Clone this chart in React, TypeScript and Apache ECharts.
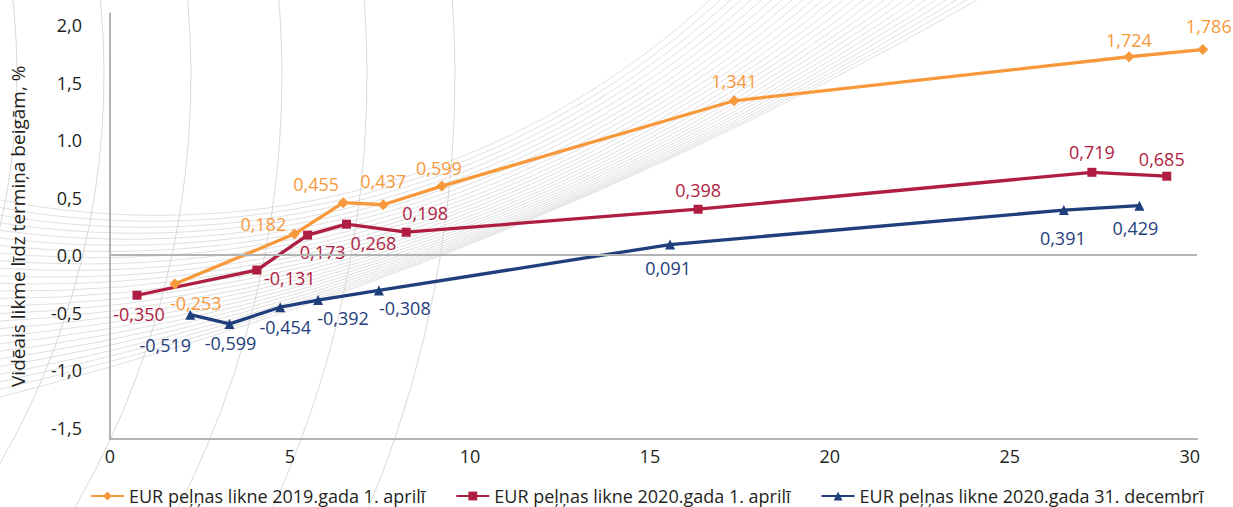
import React, { useEffect, useRef } from "react";
import * as echarts from "echarts";

// ---- data ----
const seriesNames = [
  "EUR peļņas likne 2019.gada 1. aprilī",
  "EUR peļņas likne 2020.gada 1. aprilī",
  "EUR peļņas likne 2020.gada 31. decembrī",
];
const x2019Apr = [1.8, 5.12, 6.48, 7.59, 9.22, 17.34, 28.31, 30.36];
const y2019Apr = [-0.253, 0.182, 0.455, 0.437, 0.599, 1.341, 1.724, 1.786];
const x2020Apr = [0.75, 4.08, 5.49, 6.57, 8.23, 16.34, 27.28, 29.36];
const y2020Apr = [-0.35, -0.131, 0.173, 0.268, 0.198, 0.398, 0.719, 0.685];
const x2020Dec = [2.23, 3.32, 4.73, 5.78, 7.47, 15.56, 26.5, 28.6];
const y2020Dec = [-0.519, -0.599, -0.454, -0.392, -0.308, 0.091, 0.391, 0.429];
const yTickLabels: Record<string, string> = {
  "-1.5": "-1,5",
  "-1.0": "-1,0",
  "-0.5": "-0,5",
  "0.0": "0,0",
  "0.5": "0,5",
  "1.0": "1.0",
  "1.5": "1,5",
  "2.0": "2,0",
};
const yAxisTitle = "Vidēais likme līdz termiņa beigām, %";

// ---- label placement (styling, offsets in px) ----
const off2019Apr = [[21, 19], [-31, -10], [-27, -19], [0, -24], [-3, -18], [0, -20], [0, -17], [6, -24]];
const off2020Apr = [[2, 19], [33, 8], [15, 17], [27, 19], [19, -19], [0, -19], [0, -20], [-5, -17]];
const off2020Dec = [[-25, 30], [1, 19], [5, 20], [25, 18], [26, 18], [-2, 23], [-1, 28], [-4, 22]];

const colors = ["#f7993b", "#b01d42", "#1f3e7c"];
const FONT = "'Open Sans', 'Noto Sans', sans-serif";
const TEXT = "#231f20";

function buildBackground() {
  const els: any[] = [];
  // large near-vertical arcs
  const vc = { cx: -673, cy: 75 };
  [690, 777, 864, 955, 1040, 1128].forEach((r) => {
    els.push({
      type: "arc",
      silent: true,
      z: 0,
      shape: { cx: vc.cx, cy: vc.cy, r, startAngle: -0.25, endAngle: 1.05, clockwise: true },
      style: { stroke: "#d4d4d4", lineWidth: 0.9, fill: null },
    });
  });
  // band of thin curves
  const N = 27;
  for (let i = 0; i < N; i++) {
    const t = i / (N - 1);
    const y0 = 200 + t * (397 - 200);
    const x0 = 710 + t * (977 - 710);
    const k = 1 / 816 + t * (1 / 3936 - 1 / 816);
    const r = 1 / k;
    const d = Math.sqrt(x0 * x0 + y0 * y0);
    const h = Math.sqrt(Math.max(r * r - (d / 2) * (d / 2), 0));
    const cx = x0 / 2 - (h * y0) / d;
    const cy = y0 / 2 - (h * x0) / d;
    const a1 = Math.atan2(0 - cy, x0 - cx);
    const a2 = Math.atan2(y0 - cy, 0 - cx);
    els.push({
      type: "arc",
      silent: true,
      z: 0,
      shape: { cx, cy, r, startAngle: a1 - 0.02, endAngle: a2 + 0.05, clockwise: true },
      style: { stroke: "#d6d6d6", lineWidth: 0.75, fill: null },
    });
  }
  return els;
}

function makeSeries(name: string, xs: number[], ys: number[], offs: number[][], color: string, symbol: string, size: number, extra: any = {}) {
  return {
    name,
    type: "line",
    clip: false,
    z: 3,
    symbol,
    symbolSize: size,
    itemStyle: { color },
    lineStyle: { color, width: 3.3 },
    data: xs.map((x, i) => ({
      value: [x, ys[i]],
      label: { offset: offs[i] },
    })),
    label: {
      show: true,
      position: "inside",
      align: "center",
      verticalAlign: "middle",
      color,
      fontSize: 18,
      fontFamily: FONT,
      formatter: (p: any) => p.value[1].toFixed(3).replace(".", ","),
    },
    ...extra,
  };
}

export default function App() {
  const ref = useRef<HTMLDivElement>(null);
  useEffect(() => {
    if (!ref.current) return;
    const chart = echarts.init(ref.current, null, { renderer: "svg" });
    chart.setOption({
      animation: false,
      backgroundColor: "#ffffff",
      graphic: buildBackground(),
      grid: { left: 106, right: 36, top: 13.5, bottom: 68 },
      legend: {
        left: 85,
        top: 482,
        itemGap: 30,
        itemWidth: 33,
        itemHeight: 11,
        textStyle: { fontSize: 18, color: TEXT, fontFamily: FONT },
        data: seriesNames,
      },
      xAxis: {
        type: "value",
        min: 0,
        max: 30.2,
        interval: 5,
        splitLine: { show: false },
        axisTick: { show: false },
        axisLine: { onZero: false, lineStyle: { color: "#b3b3b3", width: 2 } },
        axisLabel: {
          color: TEXT,
          fontSize: 18,
          fontFamily: FONT,
          margin: 8,
          formatter: (v: number) => (Math.abs(v % 5) < 1e-9 ? String(v) : ""),
        },
      },
      yAxis: {
        type: "value",
        min: -1.6,
        max: 2.1,
        interval: 0.1,
        splitLine: { show: false },
        axisTick: { show: false },
        axisLine: { show: true, lineStyle: { color: "#b3b3b3", width: 2 } },
        axisLabel: {
          color: TEXT,
          fontSize: 18,
          fontFamily: FONT,
          margin: 28,
          formatter: (v: number) => yTickLabels[(Math.round(v * 10) / 10).toFixed(1)] ?? "",
        },
        name: yAxisTitle,
        nameLocation: "middle",
        nameRotate: 90,
        nameGap: 83,
        nameTextStyle: { color: TEXT, fontSize: 19, fontFamily: FONT },
      },
      series: [
        makeSeries(seriesNames[0], x2019Apr, y2019Apr, off2019Apr, colors[0], "diamond", 11, {
          markLine: {
            silent: true,
            symbol: "none",
            label: { show: false },
            lineStyle: { color: "#b3b3b3", width: 2, type: "solid" },
            data: [{ yAxis: 0 }],
          },
        }),
        makeSeries(seriesNames[1], x2020Apr, y2020Apr, off2020Apr, colors[1], "rect", 9),
        makeSeries(seriesNames[2], x2020Dec, y2020Dec, off2020Dec, colors[2], "triangle", 10),
      ],
    });
    return () => chart.dispose();
  }, []);
  return <div ref={ref} style={{ position: "fixed", left: 0, top: 0, width: 1233, height: 507 }} />;
}
